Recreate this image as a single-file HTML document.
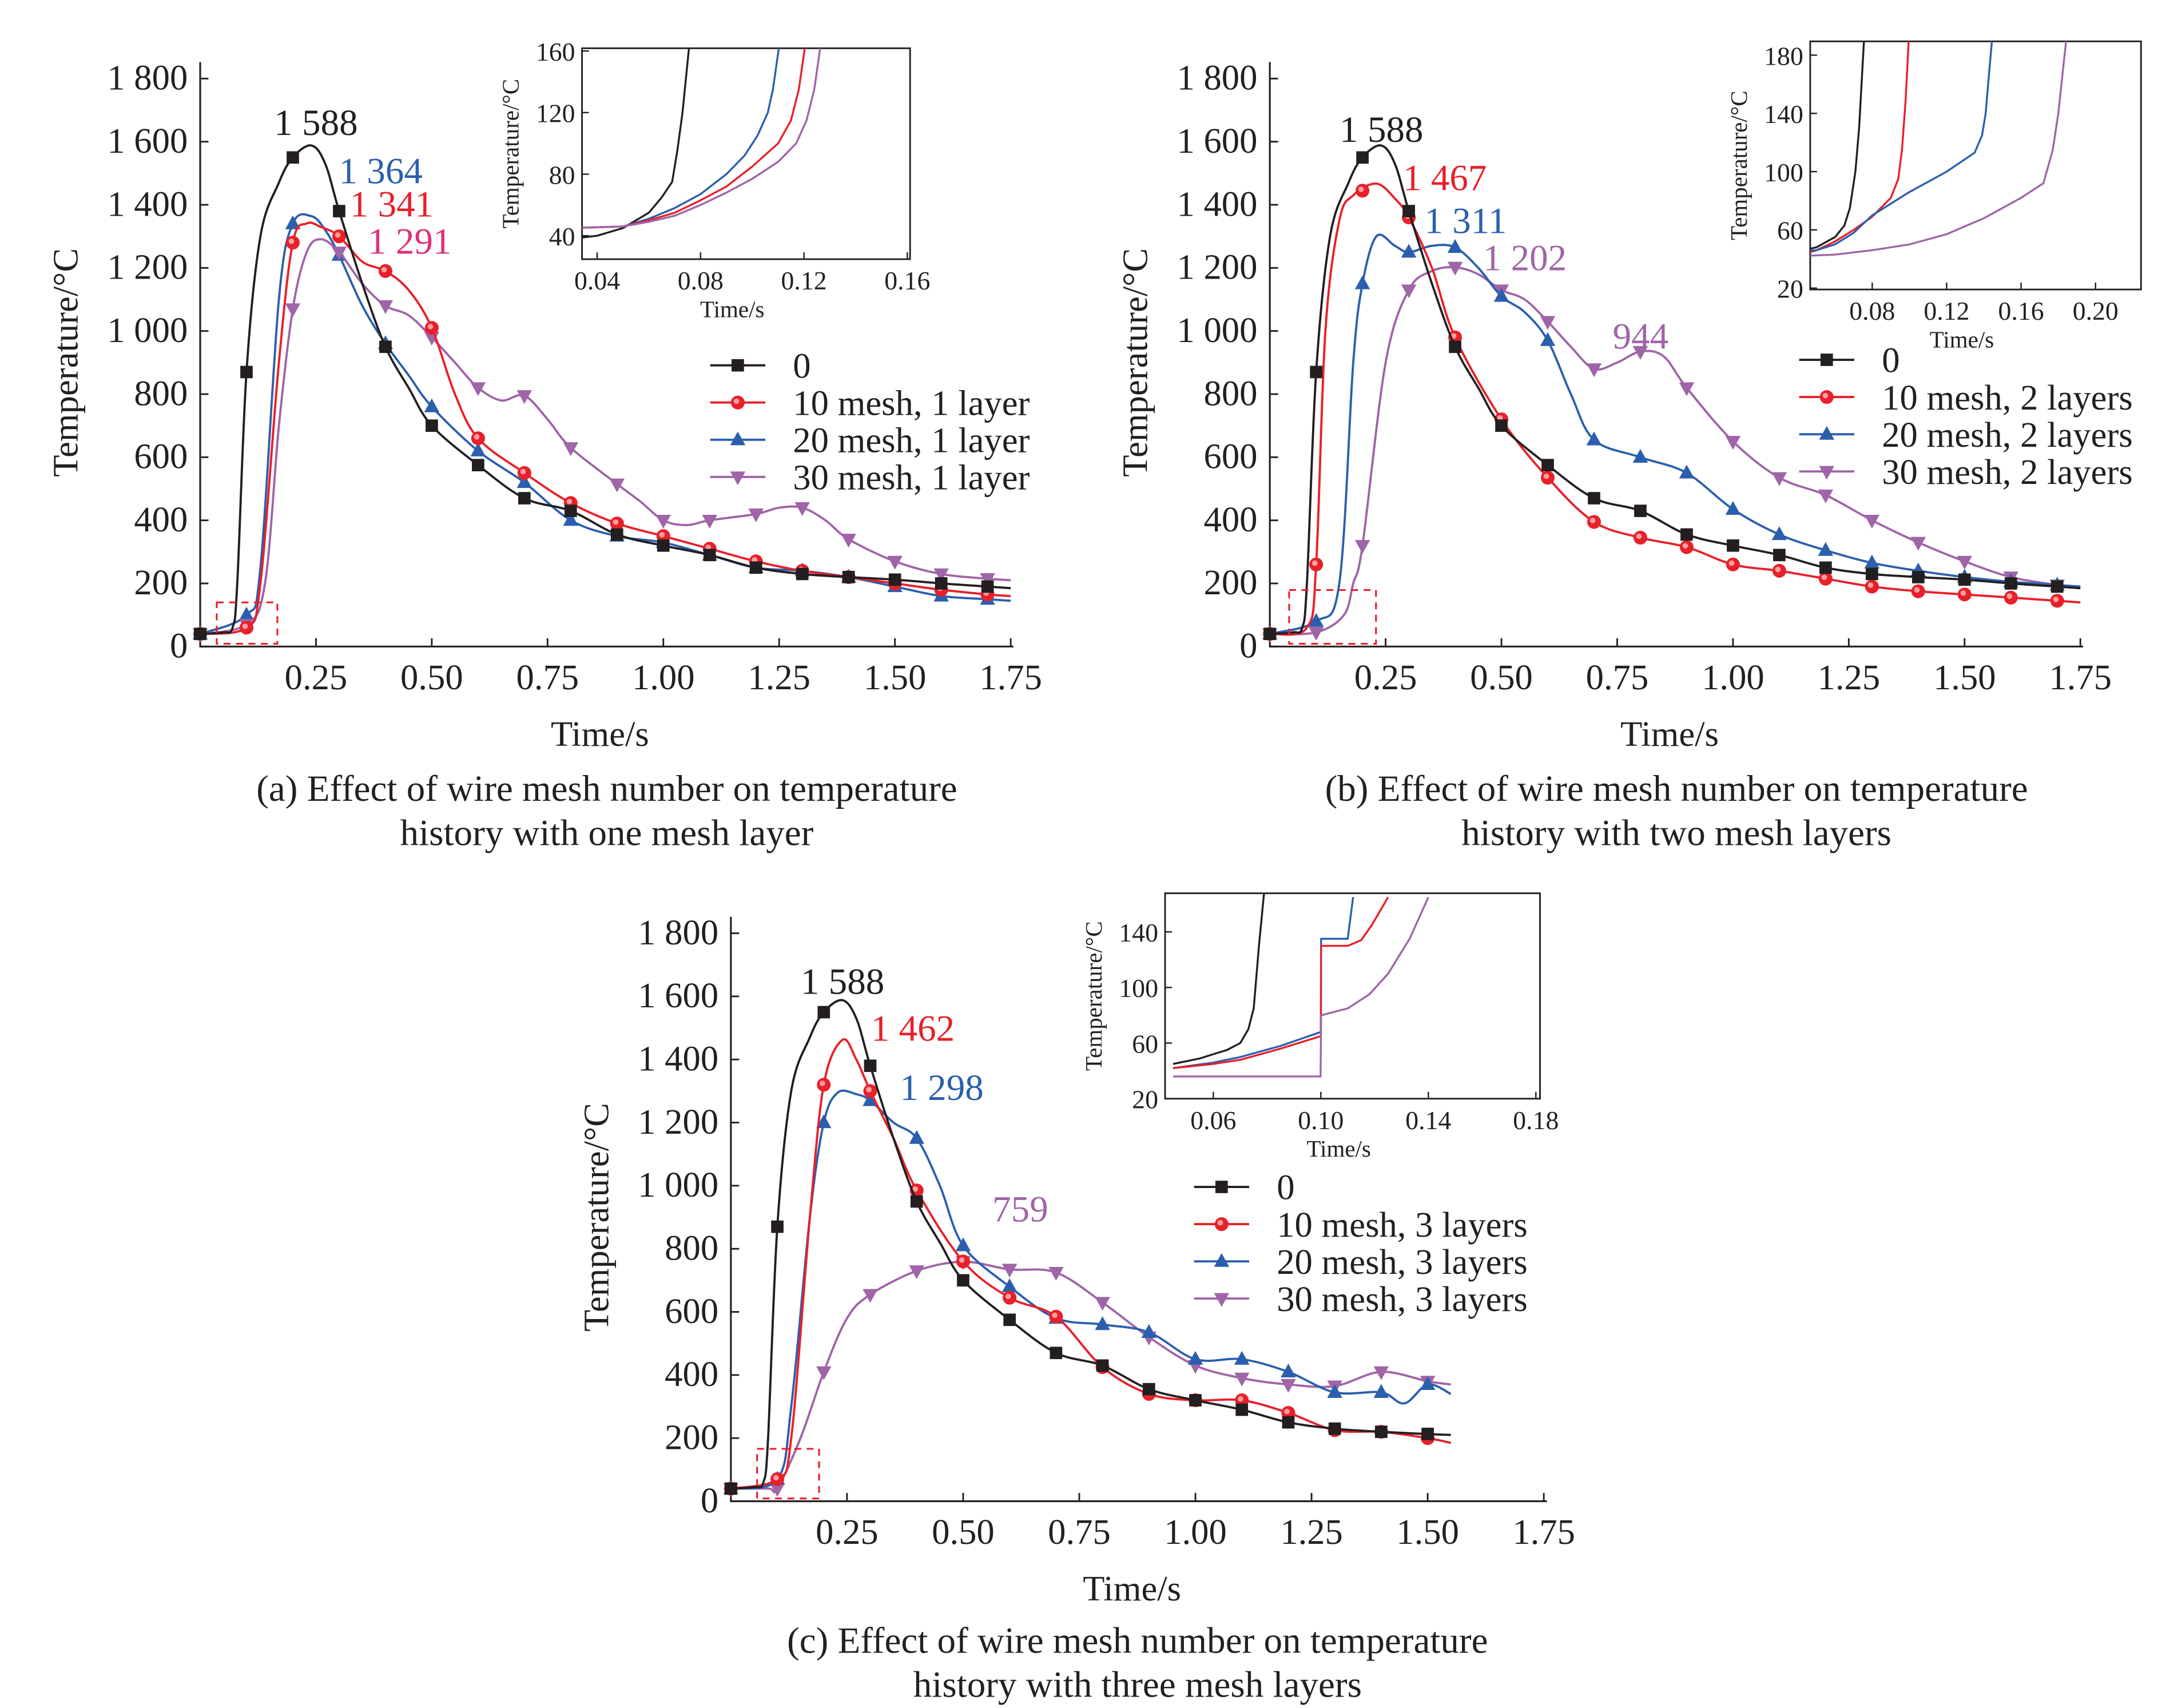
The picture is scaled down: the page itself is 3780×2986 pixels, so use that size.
<!DOCTYPE html>
<html><head><meta charset="utf-8">
<style>html,body{margin:0;padding:0;background:#fff}svg{display:block}</style></head>
<body>
<svg id="s" width="3780" height="2986" viewBox="0 0 1568 1239" xmlns="http://www.w3.org/2000/svg" font-family="Liberation Serif, serif"></svg>
<script>
const S=document.getElementById('s');let out='';
const C={k:'#231f20',r:'#e8202a',b:'#2b5fad',p:'#a064a8'};
function path(pts){let d='M'+pts[0][0].toFixed(1)+','+pts[0][1].toFixed(1);
for(let i=0;i<pts.length-1;i++){const p0=pts[i-1]||pts[i],p1=pts[i],p2=pts[i+1],p3=pts[i+2]||p2;
const c1=[p1[0]+(p2[0]-p0[0])/6,p1[1]+(p2[1]-p0[1])/6],c2=[p2[0]-(p3[0]-p1[0])/6,p2[1]-(p3[1]-p1[1])/6];
d+=' C'+c1.map(v=>v.toFixed(1))+' '+c2.map(v=>v.toFixed(1))+' '+p2[0].toFixed(1)+','+p2[1].toFixed(1);}return d;}
function lpath(pts){return 'M'+pts.map(p=>p[0].toFixed(1)+','+p[1].toFixed(1)).join(' L');}
function interp(data,t){for(let i=0;i<data.length-1;i++){if(t>=data[i][0]&&t<=data[i+1][0]){const f=(t-data[i][0])/((data[i+1][0]-data[i][0])||1);return data[i][1]+f*(data[i+1][1]-data[i][1]);}}return data[data.length-1][1];}
function marker(type,x,y,col){if(type=='k')return `<rect x="${x-4.5}" y="${y-4.5}" width="9" height="9" fill="${col}"/>`;
if(type=='r')return `<circle cx="${x}" cy="${y}" r="5" fill="${col}"/><circle cx="${x-1}" cy="${y-1}" r="2" fill="#f9a0a0"/>`;
if(type=='b')return `<polygon points="${x},${y-6} ${x-5.5},${y+4} ${x+5.5},${y+4}" fill="${col}"/>`;
return `<polygon points="${x},${y+6} ${x-5.5},${y-4} ${x+5.5},${y-4}" fill="${col}"/>`;}
function series(ax,data,type,tmax){const pts=data.map(d=>[ax.x0+d[0]*ax.sx,ax.y0-d[1]*ax.sy]);
out+=`<path d="${path(pts)}" fill="none" stroke="${C[type]}" stroke-width="1.6"/>`;
for(let t=0;t<=tmax+1e-6;t+=0.1){const v=interp(data,t);out+=marker(type,ax.x0+t*ax.sx,ax.y0-v*ax.sy,C[type]);}}
function txt(x,y,s,size,anchor,col,extra){out+=`<text x="${x}" y="${y}" font-size="${size}" text-anchor="${anchor||'start'}" fill="${col||'#231f20'}" ${extra||''}>${s}</text>`;}
function axes(ax,xend,ytop){out+=`<path d="M${ax.x0},${ytop}V${ax.y0}H${xend}" fill="none" stroke="#231f20" stroke-width="1.3"/>`;
const yl=['0','200','400','600','800','1 000','1 200','1 400','1 600','1 800'];
yl.forEach((l,i)=>{const y=ax.y0-i*200*ax.sy;out+=`<line x1="${ax.x0}" x2="${ax.x0+6}" y1="${y}" y2="${y}" stroke="#231f20" stroke-width="1.2"/>`;txt(ax.x0-9,y+8,l,26,'end');});
['0.25','0.50','0.75','1.00','1.25','1.50','1.75'].forEach((l,i)=>{const x=ax.x0+(i+1)*0.25*ax.sx;out+=`<line x1="${x}" x2="${x}" y1="${ax.y0}" y2="${ax.y0-6}" stroke="#231f20" stroke-width="1.2"/>`;txt(x,ax.y0+31,l,26,'middle');});
txt((ax.x0+xend)/2-5,ax.y0+72,'Time/s',26,'middle');
txt(0,0,'Temperature/°C',26,'middle','#231f20',`transform="translate(${ax.x0-89},${ax.y0-206}) rotate(-90)"`);}
function legend(x,y,labels){const t=['k','r','b','p'];labels.forEach((l,i)=>{const yy=y+i*27;out+=`<line x1="${x}" x2="${x+40}" y1="${yy}" y2="${yy}" stroke="${C[t[i]]}" stroke-width="1.6"/>`+marker(t[i],x+20,yy,C[t[i]]);txt(x+60,yy+9,l,26);});}
function inset(b,xt,yt,curves){out+=`<rect x="${b.x1}" y="${b.y1}" width="${b.x2-b.x1}" height="${b.y2-b.y1}" fill="#fff" stroke="#231f20" stroke-width="1.2"/>`;
out+=`<clipPath id="c${b.x1}"><rect x="${b.x1}" y="${b.y1}" width="${b.x2-b.x1}" height="${b.y2-b.y1}"/></clipPath><g clip-path="url(#c${b.x1})">`;
curves.forEach(([col,d])=>{out+=`<path d="${lpath(d.map(p=>[b.fx(p[0]),b.fy(p[1])]))}" fill="none" stroke="${C[col]}" stroke-width="1.4" stroke-linejoin="round"/>`;});out+='</g>';
xt.forEach(v=>{const x=b.fx(v);out+=`<line x1="${x}" x2="${x}" y1="${b.y2}" y2="${b.y2-5}" stroke="#231f20"/>`;txt(x,b.y2+22,v.toFixed(2),19,'middle');});
yt.forEach(v=>{const y=b.fy(v);out+=`<line x1="${b.x1}" x2="${b.x1+5}" y1="${y}" y2="${y}" stroke="#231f20"/>`;txt(b.x1-5,y+7,v,19,'end');});
txt((b.x1+b.x2)/2-10,b.y2+42,'Time/s',17,'middle');
txt(0,0,'Temperature/°C',17,'middle','#231f20',`transform="translate(${b.x1-46},${(b.y1+b.y2)/2}) rotate(-90)"`);}
const blk=[[0,40],[0.05,45],[0.07,60],[0.08,200],[0.1,870],[0.13,1300],[0.17,1470],[0.2,1550],[0.24,1588],[0.27,1530],[0.3,1380],[0.35,1150],[0.4,950],[0.45,820],[0.5,700],[0.6,575],[0.7,470],[0.8,430],[0.9,355],[1.0,320],[1.1,290],[1.2,250],[1.3,230],[1.4,220],[1.5,212],[1.6,200],[1.7,190],[1.75,185]];
// (a)
let A={x0:145,y0:469,sx:336,sy:412/1800};
axes(A,735,45);
series(A,[[0,40],[0.1,100],[0.13,250],[0.17,1100],[0.2,1340],[0.24,1364],[0.27,1320],[0.3,1240],[0.35,1080],[0.4,960],[0.45,860],[0.5,760],[0.6,620],[0.7,520],[0.8,400],[0.9,350],[1.0,330],[1.1,290],[1.2,250],[1.3,240],[1.4,220],[1.5,190],[1.6,160],[1.7,150],[1.75,145]],'b',1.7);
series(A,[[0,40],[0.1,70],[0.14,200],[0.17,700],[0.2,1070],[0.23,1250],[0.26,1291],[0.3,1250],[0.35,1150],[0.4,1080],[0.45,1050],[0.5,980],[0.55,900],[0.6,820],[0.65,780],[0.7,795],[0.75,720],[0.8,630],[0.9,515],[0.95,460],[1.0,400],[1.05,385],[1.1,400],[1.2,420],[1.25,440],[1.3,440],[1.35,400],[1.4,340],[1.5,270],[1.6,230],[1.7,215],[1.75,210]],'p',1.7);
series(A,[[0,40],[0.1,60],[0.13,200],[0.17,900],[0.2,1280],[0.23,1341],[0.26,1330],[0.3,1300],[0.35,1220],[0.4,1190],[0.45,1130],[0.5,1010],[0.55,800],[0.6,660],[0.7,550],[0.8,455],[0.9,390],[1.0,350],[1.1,310],[1.2,270],[1.3,240],[1.4,220],[1.5,200],[1.6,180],[1.7,165],[1.75,160]],'r',1.7);
series(A,blk,'k',1.7);
out+=`<rect x="157" y="437" width="44" height="30" fill="none" stroke="${C.r}" stroke-dasharray="5,4" stroke-width="1.3"/>`;
txt(229,98,'1 588',27,'middle');txt(276,133,'1 364',27,'middle',C.b);txt(284,157,'1 341',27,'middle',C.r);txt(297,184,'1 291',27,'middle','#e0307a');
legend(515,265,['0','10 mesh, 1 layer','20 mesh, 1 layer','30 mesh, 1 layer']);
inset({x1:422,y1:35,x2:660,y2:188,fx:v=>433+(v-0.04)*75/0.04,fy:v=>171-(v-40)*134/120},[0.04,0.08,0.12,0.16],[40,80,120,160],
[['k',[[0.03,38],[0.04,40],[0.05,45],[0.06,55],[0.065,65],[0.069,75],[0.071,95],[0.073,120],[0.076,170]]],
['b',[[0.03,45],[0.05,46],[0.06,51],[0.07,58],[0.08,67],[0.09,80],[0.097,92],[0.102,105],[0.106,120],[0.108,135],[0.111,170]]],
['r',[[0.03,45],[0.05,46],[0.06,50],[0.07,55],[0.08,63],[0.09,72],[0.1,85],[0.11,100],[0.115,115],[0.118,135],[0.121,170]]],
['p',[[0.03,45],[0.05,46],[0.06,49],[0.07,53],[0.08,60],[0.09,68],[0.1,77],[0.11,88],[0.117,100],[0.121,115],[0.124,135],[0.127,170]]]]);
txt(440,581,'(a) Effect of wire mesh number on temperature',27,'middle');txt(440,613,'history with one mesh layer',27,'middle');
// (b)
let B={x0:921,y0:469,sx:336,sy:412/1800};
axes(B,1511,45);
series(B,[[0,40],[0.1,45],[0.16,100],[0.18,200],[0.2,320],[0.25,900],[0.3,1130],[0.35,1190],[0.4,1202],[0.45,1180],[0.5,1130],[0.55,1100],[0.6,1030],[0.65,950],[0.7,880],[0.75,900],[0.8,935],[0.85,920],[0.9,820],[1.0,650],[1.1,535],[1.2,480],[1.3,400],[1.4,330],[1.5,270],[1.6,220],[1.7,195],[1.75,185]],'p',1.7);
series(B,[[0,40],[0.1,80],[0.15,200],[0.18,900],[0.2,1150],[0.23,1300],[0.27,1270],[0.3,1250],[0.35,1270],[0.4,1265],[0.45,1200],[0.5,1110],[0.55,1060],[0.6,970],[0.65,800],[0.7,655],[0.8,600],[0.9,550],[1.0,435],[1.1,355],[1.2,305],[1.3,265],[1.4,240],[1.5,220],[1.6,205],[1.7,195],[1.75,190]],'b',1.7);
series(B,[[0,40],[0.08,60],[0.1,260],[0.12,1000],[0.15,1350],[0.18,1430],[0.23,1467],[0.27,1420],[0.3,1360],[0.35,1200],[0.4,980],[0.5,720],[0.6,535],[0.7,395],[0.8,345],[0.9,315],[1.0,260],[1.1,240],[1.2,215],[1.3,190],[1.4,175],[1.5,165],[1.6,155],[1.7,145],[1.75,140]],'r',1.7);
series(B,blk,'k',1.7);
out+=`<rect x="935" y="428" width="63" height="39" fill="none" stroke="${C.r}" stroke-dasharray="5,4" stroke-width="1.3"/>`;
txt(1002,103,'1 588',27,'middle');txt(1048,138,'1 467',27,'middle',C.r);txt(1063,169,'1 311',27,'middle',C.b);txt(1106,196,'1 202',27,'middle',C.p);txt(1190,253,'944',27,'middle',C.p);
legend(1305,261,['0','10 mesh, 2 layers','20 mesh, 2 layers','30 mesh, 2 layers']);
inset({x1:1313,y1:30,x2:1553,y2:210,fx:v=>1358+(v-0.08)*54/0.04,fy:v=>209-(v-20)*169/160},[0.08,0.12,0.16,0.20],[20,60,100,140,180],
[['k',[[0.04,45],[0.05,48],[0.06,55],[0.065,63],[0.068,75],[0.071,100],[0.073,130],[0.076,200]]],
['r',[[0.04,42],[0.05,46],[0.06,52],[0.07,60],[0.08,69],[0.09,82],[0.094,95],[0.096,115],[0.098,150],[0.1,200]]],
['b',[[0.04,45],[0.05,46],[0.06,50],[0.07,58],[0.08,70],[0.1,86],[0.12,100],[0.135,113],[0.139,125],[0.141,140],[0.143,170],[0.145,200]]],
['p',[[0.04,42],[0.06,43],[0.08,46],[0.1,50],[0.12,57],[0.14,68],[0.16,82],[0.172,92],[0.177,115],[0.18,140],[0.185,200]]]]);
txt(1216,581,'(b) Effect of wire mesh number on temperature',27,'middle');txt(1216,613,'history with two mesh layers',27,'middle');
// (c)
let Cc={x0:530,y0:1089,sx:337,sy:412/1800};
axes(Cc,1122,665);
series(Cc,[[0,40],[0.08,40],[0.1,40],[0.15,200],[0.2,410],[0.25,580],[0.3,655],[0.4,730],[0.5,759],[0.6,735],[0.7,725],[0.8,630],[0.9,520],[1.0,430],[1.1,390],[1.2,370],[1.3,365],[1.4,410],[1.5,380],[1.55,370]],'p',1.5);
series(Cc,[[0,40],[0.1,70],[0.13,300],[0.17,900],[0.2,1200],[0.23,1295],[0.27,1290],[0.3,1270],[0.35,1200],[0.4,1150],[0.45,1000],[0.5,810],[0.6,680],[0.7,580],[0.8,560],[0.9,535],[1.0,450],[1.1,450],[1.2,410],[1.3,345],[1.4,345],[1.45,310],[1.5,370],[1.55,340]],'b',1.5);
series(Cc,[[0,40],[0.1,70],[0.13,200],[0.17,900],[0.2,1320],[0.24,1462],[0.27,1400],[0.3,1300],[0.35,1150],[0.4,985],[0.5,760],[0.6,645],[0.7,585],[0.8,425],[0.9,340],[1.0,320],[1.1,320],[1.2,280],[1.3,225],[1.4,220],[1.5,200],[1.55,185]],'r',1.5);
series(Cc,blk.slice(0,24).concat([[1.55,210]]),'k',1.5);
out+=`<rect x="549" y="1051" width="45" height="36" fill="none" stroke="${C.r}" stroke-dasharray="5,4" stroke-width="1.3"/>`;
txt(611,721,'1 588',27,'middle');txt(662,755,'1 462',27,'middle',C.r);txt(683,798,'1 298',27,'middle',C.b);txt(740,886,'759',27,'middle',C.p);
legend(866,861,['0','10 mesh, 3 layers','20 mesh, 3 layers','30 mesh, 3 layers']);
inset({x1:845,y1:648,x2:1117,y2:797,fx:v=>880+(v-0.06)*78/0.04,fy:v=>797-(v-20)*121/120},[0.06,0.10,0.14,0.18],[20,60,100,140],
[['k',[[0.045,45],[0.055,49],[0.06,52],[0.065,55],[0.07,60],[0.073,70],[0.075,85],[0.077,130],[0.079,170]]],
['b',[[0.045,42],[0.06,46],[0.07,50],[0.085,58],[0.1,68],[0.1001,135],[0.11,135],[0.112,165]]],
['r',[[0.045,42],[0.06,45],[0.07,48],[0.085,56],[0.1,65],[0.1001,130],[0.11,130],[0.115,134],[0.119,145],[0.125,165]]],
['p',[[0.045,36],[0.0999,36],[0.1001,80],[0.11,85],[0.118,95],[0.125,110],[0.133,135],[0.14,165]]]]);
txt(825,1199,'(c) Effect of wire mesh number on temperature',27,'middle');txt(825,1231,'history with three mesh layers',27,'middle');
S.innerHTML=out;
</script>
</body></html>
